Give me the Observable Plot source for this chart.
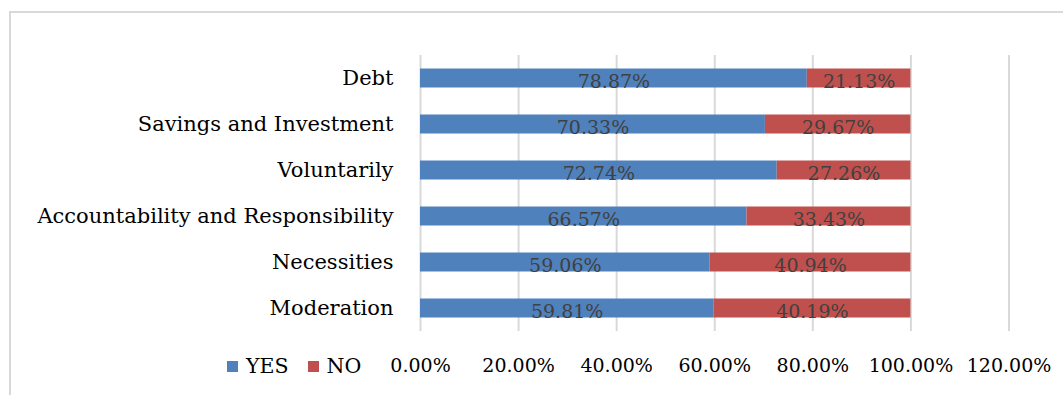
<!DOCTYPE html>
<html>
<head>
<meta charset="utf-8">
<script src="https://cdn.jsdelivr.net/npm/d3@7"></script>
<script src="https://cdn.jsdelivr.net/npm/@observablehq/plot@0.6"></script>
<style>
  html, body { margin: 0; padding: 0; background: #fff; }
  #wrap { position: relative; width: 1063px; height: 395px; overflow: hidden; background: #fff; }
  #frame { position: absolute; left: 9px; top: 11px; width: 1100px; height: 420px; border: 2px solid #d9d9d9; box-sizing: border-box; }
  #chart { position: absolute; left: 0; top: 0; }
  #legend { position: absolute; top: 354px; left: 227px; font-family: "DejaVu Serif", serif; font-size: 20.5px; color: #000; display: flex; align-items: center; white-space: nowrap; }
  #legend .sw { display: inline-block; width: 11px; height: 11px; margin-right: 8px; }
  #legend .item { display: inline-flex; align-items: center; margin-right: 19px; }
</style>
</head>
<body>
<div id="wrap">
  <div id="frame"></div>
  <div id="chart"></div>
  <div id="legend"></div>
</div>
<script>
const categories = ["Debt", "Savings and Investment", "Voluntarily", "Accountability and Responsibility", "Necessities", "Moderation"];
const yesValues = [78.87, 70.33, 72.74, 66.57, 59.06, 59.81];
const noValues = [21.13, 29.67, 27.26, 33.43, 40.94, 40.19];
const seriesNames = ["YES", "NO"];
const seriesColors = ["#4F81BD", "#C0504D"];
const xTicks = [0, 20, 40, 60, 80, 100, 120];

const rows = [];
categories.forEach((c, i) => {
  rows.push({category: c, series: seriesNames[0], value: yesValues[i]});
  rows.push({category: c, series: seriesNames[1], value: noValues[i]});
});

const font = "DejaVu Serif, serif";

const chart = Plot.plot({
  width: 1063,
  height: 395,
  marginLeft: 420,
  marginRight: 54.5,
  marginTop: 55,
  marginBottom: 64,
  style: {fontFamily: font, fontSize: "19px", background: "transparent", color: "#000"},
  x: {domain: [0, 120], ticks: xTicks},
  y: {domain: categories, padding: 0},
  color: {domain: seriesNames, range: seriesColors},
  marks: [
    Plot.ruleX(xTicks, {stroke: "#d9d9d9", strokeWidth: 2, strokeOpacity: 1}),
    Plot.barX(rows, Plot.stackX({x: "value", y: "category", fill: "series", insetTop: 13.5, insetBottom: 13.5})),
    Plot.textX(rows, Plot.stackX({x: "value", y: "category", text: d => d.value.toFixed(2) + "%", fill: "#404040", fontSize: 19, dy: 3})),
    Plot.axisX({ticks: xTicks, tickSize: 0, tickPadding: 27, tickFormat: d => d.toFixed(2) + "%", fontSize: 19, fill: "#000", label: null}),
    Plot.axisY({tickSize: 0, tickPadding: 27, fontSize: 21, fill: "#000", label: null})
  ]
});
document.getElementById("chart").appendChild(chart);

const legend = document.getElementById("legend");
seriesNames.forEach((s, i) => {
  const item = document.createElement("span");
  item.className = "item";
  const sw = document.createElement("span");
  sw.className = "sw";
  sw.style.background = seriesColors[i];
  item.appendChild(sw);
  item.appendChild(document.createTextNode(s));
  legend.appendChild(item);
});
</script>
</body>
</html>
